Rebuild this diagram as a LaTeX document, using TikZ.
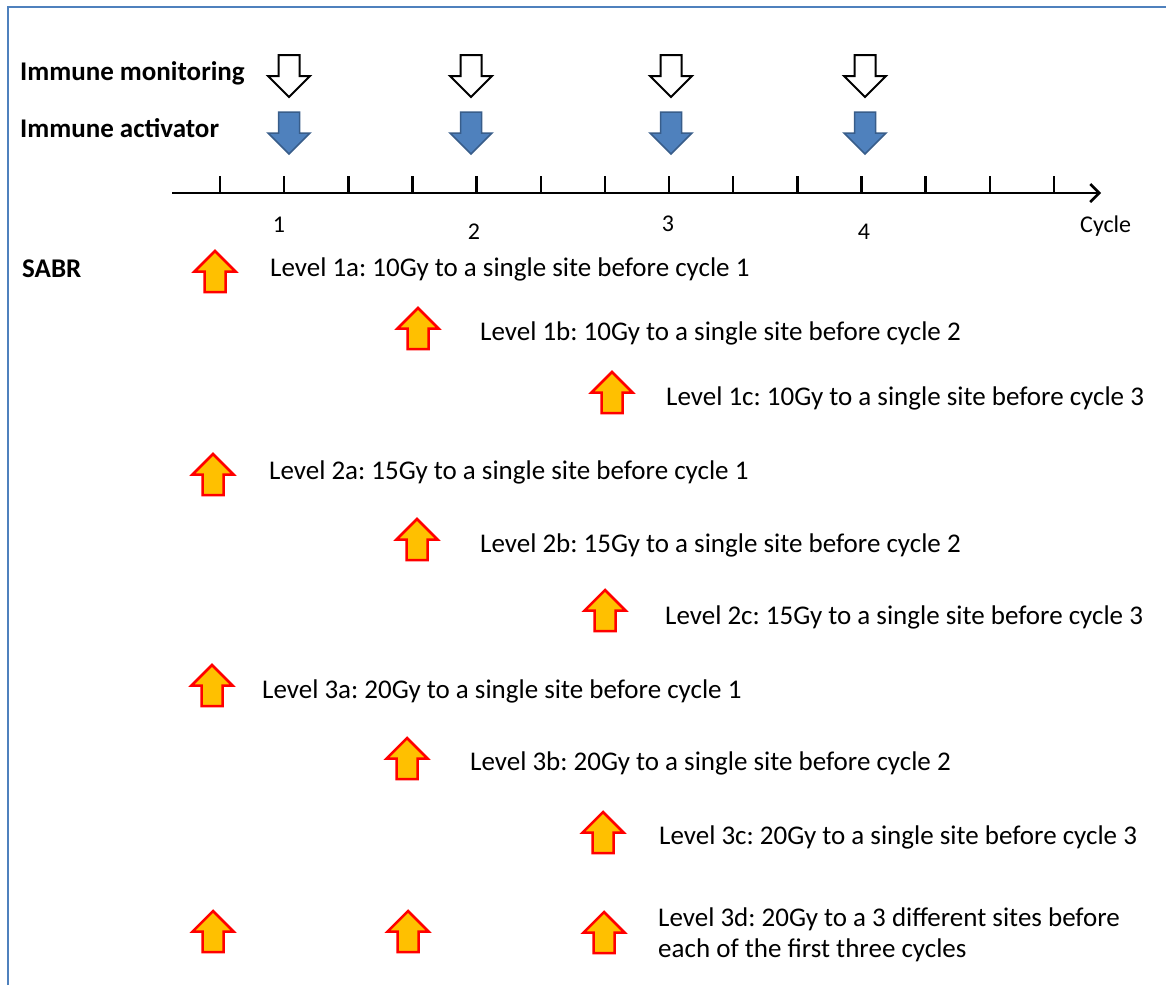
\documentclass[tikz,border=0pt]{standalone}
\usepackage{fontspec}
\setmainfont{Carlito}
\usetikzlibrary{arrows.meta}
\frenchspacing
\definecolor{frameblue}{HTML}{4F81BD}
\definecolor{actblue}{HTML}{4F81BD}
\definecolor{actedge}{HTML}{385D8A}
\definecolor{sabrfill}{HTML}{FFC000}
\definecolor{sabredge}{HTML}{FF0000}
\tikzset{
  dnarrow/.pic={\path[pic actions] (-10.5,0) -- (10.5,0) -- (10.5,21) -- (21,21) -- (0,42) -- (-21,21) -- (-10.5,21) -- cycle;},
  uparrow/.pic={\path[pic actions] (0,0) -- (20.5,20.5) -- (10.5,20.5) -- (10.5,41) -- (-10.5,41) -- (-10.5,20.5) -- (-20.5,20.5) -- cycle;},
  monarrow/.style={draw=black, fill=white, line width=2pt, line join=miter},
  actarrow/.style={draw=actedge, fill=actblue, line width=1.5pt, line join=miter},
  sabrarrow/.style={draw=sabredge, fill=sabrfill, line width=2.5pt, line join=miter},
  lvl/.style={anchor=base west, inner sep=0pt, font=\fontsize{27}{31}\selectfont\frenchspacing},
  hdr/.style={anchor=base west, inner sep=0pt, font=\fontsize{27}{31}\selectfont\bfseries},
  axlbl/.style={anchor=base, inner sep=0pt, font=\fontsize{24}{28}\selectfont},
  tickline/.style={line width=2.5pt},
}
\begin{document}
\begin{tikzpicture}[x=1pt,y=-1pt]
\useasboundingbox (0,0) rectangle (1166,985);
\fill[white] (0,0) rectangle (1166,985);
% frame
\draw[frameblue, line width=2.5pt] (8,985) -- (8,7) -- (1166,7);

% headers
\node[hdr] (mon) at (20,80) {Immune monitoring};
\node[hdr] (act) at (20,137) {Immune activator};
\node[hdr] (sabr) at (22,277) {SABR};

% top arrows
\foreach \x in {289,471,671,865}{
  \pic[monarrow] at (\x,55) {dnarrow};
  \pic[actarrow] at (\x,112) {dnarrow};
}

% axis
\coordinate (axs) at (172,193);
\coordinate (axe) at (1101,193);
\draw[line width=2.5pt, -{Straight Barb[length=9pt,width=18pt,line width=2.5pt]}] (axs) -- (axe);
\foreach \i in {0,...,13}{
  \draw[tickline] ({220+64.15*\i},176) -- ({220+64.15*\i},193);
}
\node[axlbl] (c1) at (279,232) {1};
\node[axlbl] (c2) at (474,239) {2};
\node[axlbl] (c3) at (668,231) {3};
\node[axlbl] (c4) at (864,239) {4};
\node[axlbl, anchor=base west] (cyc) at (1080,232) {Cycle};

% SABR arrows
\pic[sabrarrow] at (215,251) {uparrow};
\pic[sabrarrow] at (418,308) {uparrow};
\pic[sabrarrow] at (612,372) {uparrow};
\pic[sabrarrow] at (213,454) {uparrow};
\pic[sabrarrow] at (417,519) {uparrow};
\pic[sabrarrow] at (605,590) {uparrow};
\pic[sabrarrow] at (212,665) {uparrow};
\pic[sabrarrow] at (407,738) {uparrow};
\pic[sabrarrow] at (603,812) {uparrow};
\pic[sabrarrow] at (213,911) {uparrow};
\pic[sabrarrow] at (408,911) {uparrow};
\pic[sabrarrow] at (604,912) {uparrow};

% level texts
\node[lvl] (l1a) at (270,276) {Level 1a: 10Gy to a single site before cycle 1};
\node[lvl] (l1b) at (480,340) {Level 1b: 10Gy to a single site before cycle 2};
\node[lvl] (l1c) at (666,405) {Level 1c: 10Gy to a single site before cycle 3};
\node[lvl] (l2a) at (269,479) {Level 2a: 15Gy to a single site before cycle 1};
\node[lvl] (l2b) at (480,552) {Level 2b: 15Gy to a single site before cycle 2};
\node[lvl] (l2c) at (665,624) {Level 2c: 15Gy to a single site before cycle 3};
\node[lvl] (l3a) at (262,698) {Level 3a: 20Gy to a single site before cycle 1};
\node[lvl] (l3b) at (470,770) {Level 3b: 20Gy to a single site before cycle 2};
\node[lvl] (l3c) at (659,844) {Level 3c: 20Gy to a single site before cycle 3};
\node[lvl] (l3d) at (658,926) {Level 3d: 20Gy to a 3 different sites before};
\node[lvl] (l3e) at (658,957) {each of the first three cycles};
\end{tikzpicture}
\end{document}
